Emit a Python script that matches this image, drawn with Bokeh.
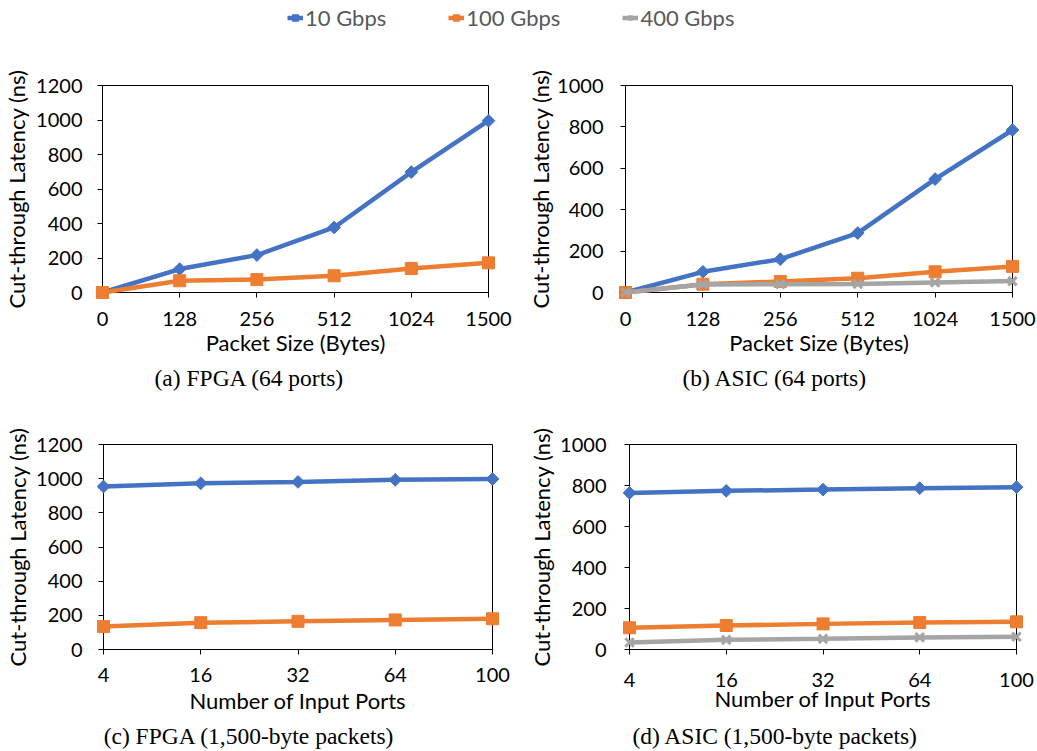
import numpy as np
from bokeh.plotting import figure
from bokeh.layouts import column, row
from bokeh.models import Range1d, FixedTicker, Legend, LegendItem, ColumnDataSource
from bokeh.core.properties import value
from bokeh.embed import file_html
from bokeh.resources import INLINE

# ---------------- data ----------------
size_labels = ["0", "128", "256", "512", "1024", "1500"]
port_labels = ["4", "16", "32", "64", "100"]

fpga_size_10g = [0, 136, 217, 377, 698, 996]
fpga_size_100g = [0, 68, 75, 97, 139, 172]

asic_size_10g = [0, 100, 161, 287, 548, 785]
asic_size_100g = [0, 40, 53, 69, 100, 126]
asic_size_400g = [0, 39, 40, 41, 48, 55]

fpga_port_10g = [954, 973, 981, 993, 998]
fpga_port_100g = [134, 157, 165, 173, 180]

asic_port_10g = [764, 774, 780, 787, 792]
asic_port_100g = [106, 117, 125, 132, 135]
asic_port_400g = [34, 47, 52, 59, 62]

series_names = ["10 Gbps", "100 Gbps", "400 Gbps"]
y_label = "Cut-through Latency (ns)"
x_label_size = "Packet Size (Bytes)"
x_label_port = "Number of Input Ports"
captions = ["(a) FPGA (64 ports)", "(b) ASIC (64 ports)",
            "(c) FPGA (1,500-byte packets)", "(d) ASIC (1,500-byte packets)"]

# ---------------- styles ----------------
COLORS = ["#4472C4", "#ED7D31", "#A5A5A5"]
SANS = "Lato"
SERIF = "Liberation Serif"


def add_series(p, xs, ys, k, level="glyph"):
    c = COLORS[k]
    src = ColumnDataSource(dict(x=xs, y=ys))
    r1 = p.line("x", "y", source=src, line_color=c, line_width=4.5, level=level)
    if k == 0:
        r2 = p.scatter("x", "y", source=src, marker="square", angle=np.pi / 4, size=9,
                       fill_color=c, line_color=c, level=level)
    elif k == 1:
        r2 = p.scatter("x", "y", source=src, marker="square", size=12,
                       fill_color=c, line_color=c, level=level)
    else:
        r2 = p.scatter("x", "y", source=src, marker="x", size=12, line_width=3,
                       line_color=c, level=level)
    return [r1, r2]


def make_panel(labels, series, ymax, width, height, bl, br, bt, bb, xlabel, caption,
               cap_dx, cap_dy, xt_so, xl_so, yt_so, yl_so):
    n = len(labels)
    p = figure(width=width, height=height, x_range=Range1d(0, n - 1), y_range=Range1d(0, ymax),
               output_backend="svg", toolbar_location=None,
               min_border_left=bl, min_border_right=br, min_border_top=bt, min_border_bottom=bb)
    p.grid.visible = False
    p.outline_line_color = "#000000"
    p.outline_line_width = 1
    p.background_fill_color = "white"
    p.border_fill_color = "white"

    xs = list(range(n))
    for k, ys in enumerate(series):
        if ys is not None:
            add_series(p, xs, ys, k, level="overlay")

    p.xaxis.ticker = FixedTicker(ticks=xs)
    p.xaxis.major_label_overrides = {i: lab for i, lab in enumerate(labels)}
    p.yaxis.ticker = FixedTicker(ticks=list(range(0, ymax + 1, 200)))
    for ax in (p.xaxis, p.yaxis):
        ax.axis_line_color = "#000000"
        ax.major_tick_line_color = "#000000"
        ax.major_tick_in = 0
        ax.major_tick_out = 5
        ax.minor_tick_in = 0
        ax.minor_tick_out = 0
        ax.major_label_text_font = SANS
        ax.major_label_text_font_size = "20px"
        ax.major_label_text_color = "#000000"
        ax.axis_label_text_font = SANS
        ax.axis_label_text_font_size = "22px"
        ax.axis_label_text_font_style = "normal"
        ax.axis_label_text_color = "#000000"
    p.xaxis.axis_label = xlabel
    p.xaxis.major_label_standoff = xt_so
    p.xaxis.axis_label_standoff = xl_so
    p.yaxis.axis_label = y_label
    p.yaxis.major_label_standoff = yt_so
    p.yaxis.axis_label_standoff = yl_so

    # sub-figure caption, anchored to the frame's lower-left corner (not clipped at overlay level)
    csrc = ColumnDataSource(dict(x=[0], y=[0], t=[caption]))
    p.text("x", "y", text="t", source=csrc, x_offset=cap_dx, y_offset=cap_dy,
           text_align="center", text_baseline="middle", text_font=value(SERIF),
           text_font_size=value("23.5px"), text_color="#000000", level="overlay")
    return p


# ---------------- legend strip ----------------
lf = figure(width=1037, height=50, x_range=Range1d(0, 1), y_range=Range1d(0, 1),
            output_backend="svg", toolbar_location=None,
            min_border_left=287, min_border_right=0, min_border_top=0, min_border_bottom=16,
            x_axis_location=None, y_axis_location=None)
lf.outline_line_color = None
lf.grid.visible = False
items = []
for k, name in enumerate(series_names):
    rs = add_series(lf, [-10, -9], [-10, -10], k)
    items.append(LegendItem(label=name, renderers=rs))
leg = Legend(items=items, orientation="horizontal", location="center_left",
             border_line_color=None, background_fill_alpha=0, padding=0, margin=0,
             spacing=62, glyph_width=16, glyph_height=20, label_standoff=2,
             label_text_font=SANS, label_text_font_size="22px", label_text_color="#595959")
lf.add_layout(leg)

# ---------------- panels ----------------
fa = make_panel(size_labels, [fpga_size_10g, fpga_size_100g, None], 1200, 520, 350,
                102, 32, 35, 108, x_label_size, captions[0], 147, 85.5, 14, 0, 15, 3)
fb = make_panel(size_labels, [asic_size_10g, asic_size_100g, asic_size_400g], 1000, 517, 350,
                105, 25, 35, 108, x_label_size, captions[1], 149.4, 85.5, 14, 0, 17, 0)
fc = make_panel(port_labels, [fpga_port_10g, fpga_port_100g, None], 1200, 520, 351,
                103, 28, 41, 102, x_label_port, captions[2], 145.7, 86, 13, 2, 16, 2)
fd = make_panel(port_labels, [asic_port_10g, asic_port_100g, asic_port_400g], 1000, 517, 351,
                109, 21, 44, 102, x_label_port, captions[3], 145.8, 86, 18, -5, 18, 2)

layout = column(lf, row(fa, fb), row(fc, fd))
open("out.html", "w").write(file_html(layout, INLINE))
